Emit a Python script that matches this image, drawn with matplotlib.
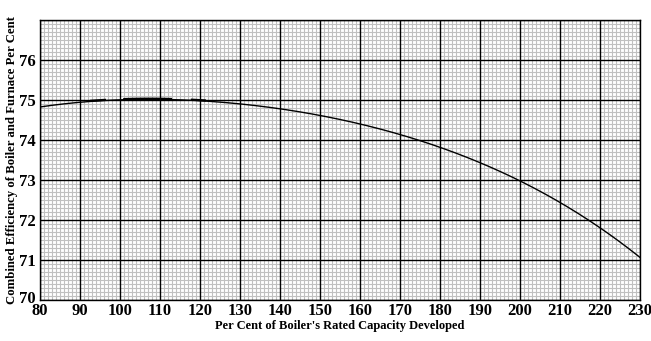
import matplotlib
matplotlib.use("Agg")
import matplotlib.pyplot as plt
import matplotlib.transforms as mtransforms
import numpy as np

capacity = [80, 90, 100, 110, 120, 130, 140, 150, 160, 170, 180, 190, 200, 210, 220, 230]
efficiency = [74.82, 74.96, 75.0, 75.01, 74.97, 74.9, 74.78, 74.63, 74.42, 74.14, 73.8, 73.41, 72.97, 72.44, 71.85, 71.04]
x_ticks = [80, 90, 100, 110, 120, 130, 140, 150, 160, 170, 180, 190, 200, 210, 220, 230]
y_ticks = [70, 71, 72, 73, 74, 75, 76]
heavy_ranges = [(92.5, 96.5), (100.8, 113.0), (117.7, 121.5)]

plt.rcParams['font.family'] = ['Liberation Serif', 'DejaVu Serif']
plt.rcParams['font.weight'] = 'bold'

fig = plt.figure(figsize=(6.51, 3.41), dpi=100)
ax = fig.add_axes([40/651, 41/341, 600/651, 280/341])

xs = np.linspace(capacity[0], capacity[-1], 400)
coef = np.polyfit(capacity, efficiency, 4)
ys = np.polyval(coef, xs)
ax.plot(xs, ys, color='black', lw=1.0, zorder=5)
for a, b in heavy_ranges:
    xh = np.linspace(a, b, 20)
    ax.plot(xh, np.polyval(coef, xh) + 0.015, color='black', lw=1.6, zorder=6,
            solid_capstyle='butt')

ax.set_xlim(80, 230)
ax.set_ylim(70, 77)
ax.set_xticks(x_ticks)
ax.set_yticks(y_ticks)
minor_x = [v for v in range(80, 231) if v % 10 != 0]
minor_y = [70 + i / 10 for i in range(71) if i % 10 != 0]
ax.set_xticks(minor_x, minor=True)
ax.set_yticks(minor_y, minor=True)
ax.grid(which='minor', color='#c0c0c0', lw=0.8, zorder=0)
ax.set_axisbelow(True)
for v in x_ticks:
    ax.axvline(v, color='black', lw=1.0, zorder=2)
for v in y_ticks + [77]:
    ax.axhline(v, color='black', lw=1.0, zorder=2)
ax.tick_params(which='both', length=0)
ax.tick_params(axis='x', labelsize=12, pad=2)
ax.tick_params(axis='y', labelsize=12, pad=3)
for s in ax.spines.values():
    s.set_color('black')
    s.set_linewidth(1.0)

lbl = ax.get_yticklabels()[0]
lbl.set_transform(lbl.get_transform() + mtransforms.ScaledTranslation(0, 3/100, fig.dpi_scale_trans))

ax.set_xlabel("Per Cent of Boiler's Rated Capacity Developed", fontsize=9, fontweight='bold', labelpad=1)
ax.set_ylabel("Combined Efficiency of Boiler and Furnace Per Cent", fontsize=9.2, fontweight='bold', labelpad=0.5)

fig.savefig("out.png", dpi=100)
